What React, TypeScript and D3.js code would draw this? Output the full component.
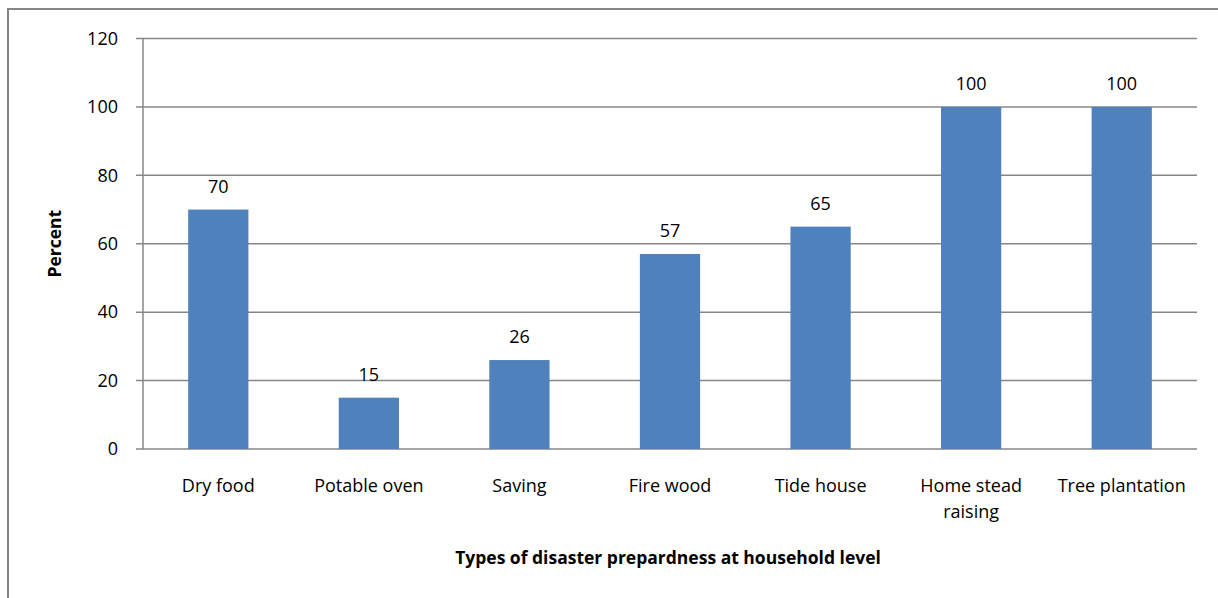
import React, {useEffect, useRef} from 'react';
import * as d3 from 'd3';

const categories = ['Dry food', 'Potable oven', 'Saving', 'Fire wood', 'Tide house', 'Home stead raising', 'Tree plantation'];
const values = [70, 15, 26, 57, 65, 100, 100];
const yTicks = [0, 20, 40, 60, 80, 100, 120];

const FONT = '"Open Sans", "Noto Sans", sans-serif';

const App = () => {
    const ref = useRef<SVGSVGElement>(null);

    useEffect(() => {
        const W = 1218, H = 598;
        const left = 143, right = 1197, top = 38.5, bottom = 449;

        const svg = d3.select(ref.current);
        svg.selectAll('*').remove();

        // outer chart frame (runs off the picture on the right and bottom)
        svg.append('rect')
            .attr('x', 8).attr('y', 9)
            .attr('width', W).attr('height', H)
            .attr('fill', '#fff')
            .attr('stroke', '#878787')
            .attr('stroke-width', 2);

        const y = d3.scaleLinear().domain([0, 120]).range([bottom, top]);
        const x = d3.scaleBand().domain(categories).range([left, right]).paddingInner(0.6).paddingOuter(0.3);

        // gridlines + left ticks
        svg.append('g')
            .selectAll('line')
            .data(yTicks)
            .enter()
            .append('line')
            .attr('x1', left - 7).attr('x2', right)
            .attr('y1', (d) => y(d)).attr('y2', (d) => y(d))
            .attr('stroke', '#878787')
            .attr('stroke-width', 1.5);

        svg.append('line')
            .attr('x1', left).attr('x2', left)
            .attr('y1', top).attr('y2', bottom)
            .attr('stroke', '#878787')
            .attr('stroke-width', 1.5);

        svg.append('g')
            .selectAll('text')
            .data(yTicks)
            .enter()
            .append('text')
            .attr('x', 118)
            .attr('y', (d) => y(d))
            .attr('dy', '0.35em')
            .attr('text-anchor', 'end')
            .attr('font-family', FONT)
            .attr('font-size', 18)
            .text((d) => d);

        // bars
        svg.append('g')
            .selectAll('rect')
            .data(values)
            .enter()
            .append('rect')
            .attr('x', (d, i) => x(categories[i])!)
            .attr('y', (d) => y(d))
            .attr('width', x.bandwidth())
            .attr('height', (d) => bottom - y(d))
            .attr('fill', '#4F81BD');

        // value labels
        svg.append('g')
            .selectAll('text')
            .data(values)
            .enter()
            .append('text')
            .attr('x', (d, i) => x(categories[i])! + x.bandwidth() / 2)
            .attr('y', (d) => y(d) - 17)
            .attr('text-anchor', 'middle')
            .attr('font-family', FONT)
            .attr('font-size', 18)
            .text((d) => d);

        // category labels, wrapped to the band width
        const step = x.step();
        const labels = svg.append('g')
            .selectAll('text')
            .data(categories)
            .enter()
            .append('text')
            .attr('x', (d) => x(d)! + x.bandwidth() / 2)
            .attr('y', bottom + 43)
            .attr('text-anchor', 'middle')
            .attr('font-family', FONT)
            .attr('font-size', 18);

        labels.each(function (d) {
            const text = d3.select(this);
            const words = d.split(' ');
            const cx = text.attr('x');
            let line: string[] = [];
            let tspan = text.append('tspan').attr('x', cx);
            words.forEach((w) => {
                line.push(w);
                tspan.text(line.join(' '));
                if ((tspan.node() as SVGTSpanElement).getComputedTextLength() > step && line.length > 1) {
                    line.pop();
                    tspan.text(line.join(' '));
                    line = [w];
                    tspan = text.append('tspan').attr('x', cx).attr('dy', 26).text(w);
                }
            });
        });

        // axis titles
        svg.append('text')
            .attr('transform', `translate(61, ${(top + bottom) / 2}) rotate(-90)`)
            .attr('text-anchor', 'middle')
            .attr('font-family', FONT)
            .attr('font-size', 17.5)
            .attr('font-weight', 'bold')
            .text('Percent');

        svg.append('text')
            .attr('x', 668)
            .attr('y', 564)
            .attr('text-anchor', 'middle')
            .attr('font-family', FONT)
            .attr('font-size', 17.5)
            .attr('font-weight', 'bold')
            .text('Types of disaster prepardness at household level');
    }, []);

    return (
        <svg ref={ref} width={1218} height={598}
             style={{position: 'absolute', left: 0, top: 0, display: 'block'}}/>
    );
};

export default App;
